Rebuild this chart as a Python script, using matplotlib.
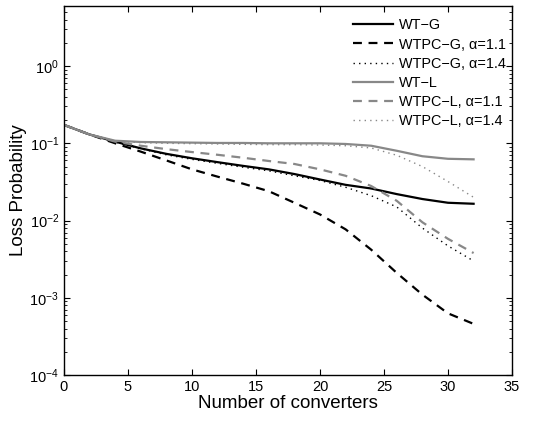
import matplotlib
matplotlib.use("Agg")
import matplotlib.pyplot as plt
from matplotlib.ticker import LogLocator, FixedLocator, NullFormatter

plt.rcParams['font.family'] = ['Liberation Sans', 'DejaVu Sans']
plt.rcParams['mathtext.fontset'] = 'custom'
plt.rcParams['mathtext.rm'] = 'Liberation Sans'
plt.rcParams['mathtext.it'] = 'Liberation Sans:italic'

x = [0, 2, 4, 6, 8, 10, 12, 14, 16, 18, 20, 22, 24, 26, 28, 30, 32]

wt_g = [0.173, 0.13, 0.105, 0.086, 0.073, 0.064, 0.057, 0.051, 0.046, 0.040,
        0.034, 0.029, 0.026, 0.022, 0.019, 0.017, 0.0165]
wtpc_g_11 = [0.173, 0.13, 0.100, 0.078, 0.060, 0.046, 0.037, 0.030, 0.024, 0.017,
             0.012, 0.0077, 0.0042, 0.0021, 0.0011, 0.00063, 0.00046]
wtpc_g_14 = [0.173, 0.13, 0.104, 0.085, 0.071, 0.062, 0.055, 0.049, 0.044, 0.038,
             0.033, 0.027, 0.021, 0.015, 0.008, 0.0047, 0.003]
wt_l = [0.173, 0.13, 0.108, 0.104, 0.103, 0.102, 0.101, 0.101, 0.100, 0.100,
        0.100, 0.098, 0.093, 0.080, 0.068, 0.063, 0.062]
wtpc_l_11 = [0.173, 0.13, 0.105, 0.093, 0.084, 0.077, 0.071, 0.065, 0.059, 0.054,
             0.046, 0.038, 0.028, 0.018, 0.0095, 0.0058, 0.0038]
wtpc_l_14 = [0.173, 0.13, 0.106, 0.102, 0.100, 0.099, 0.098, 0.097, 0.096, 0.096,
             0.095, 0.093, 0.087, 0.070, 0.050, 0.032, 0.020]

labels = ['WT\u2212G', 'WTPC\u2212G, \u03b1=1.1', 'WTPC\u2212G, \u03b1=1.4',
          'WT\u2212L', 'WTPC\u2212L, \u03b1=1.1', 'WTPC\u2212L, \u03b1=1.4']
x_ticks = [0, 5, 10, 15, 20, 25, 30, 35]

gray = '#888888'
fig = plt.figure(figsize=(5.33, 4.21), dpi=100)
ax = fig.add_axes([0.120, 0.109, 0.8406, 0.877])

ax.plot(x, wt_g, color='black', lw=1.6, ls='-', label=labels[0])
ax.plot(x, wtpc_g_11, color='black', lw=1.6, ls=(0, (4, 3)), label=labels[1])
ax.plot(x, wtpc_g_14, color='black', lw=1.0, ls=(0, (1, 3)), label=labels[2])
ax.plot(x, wt_l, color=gray, lw=1.6, ls='-', label=labels[3])
ax.plot(x, wtpc_l_11, color=gray, lw=1.6, ls=(0, (4, 3)), label=labels[4])
ax.plot(x, wtpc_l_14, color=gray, lw=1.0, ls=(0, (1, 3)), label=labels[5])

ax.set_yscale('log')
ax.set_xlim(0, 35)
ax.set_ylim(1e-4, 6.0)
ax.xaxis.set_major_locator(FixedLocator(x_ticks))
ax.yaxis.set_major_locator(LogLocator(base=10, numticks=10))
ax.yaxis.set_minor_locator(LogLocator(base=10, subs=range(2, 10), numticks=10))
ax.yaxis.set_minor_formatter(NullFormatter())

ax.tick_params(which='both', direction='in', top=True, right=True, labelsize=10.5)
ax.tick_params(which='major', length=4, width=0.8)
ax.tick_params(which='minor', length=2, width=0.6)
for s in ax.spines.values():
    s.set_linewidth(1.0)

ax.set_xlabel('Number of converters', fontsize=13.5, labelpad=1)
ax.set_ylabel('Loss Probability', fontsize=13.5, labelpad=2)

leg = ax.legend(loc='upper right', frameon=False, fontsize=10.4, handlelength=2.8,
                labelspacing=0.36, handletextpad=0.4, borderaxespad=0.0,
                bbox_to_anchor=(1.0, 0.982))

fig.savefig('out.png', dpi=100)
